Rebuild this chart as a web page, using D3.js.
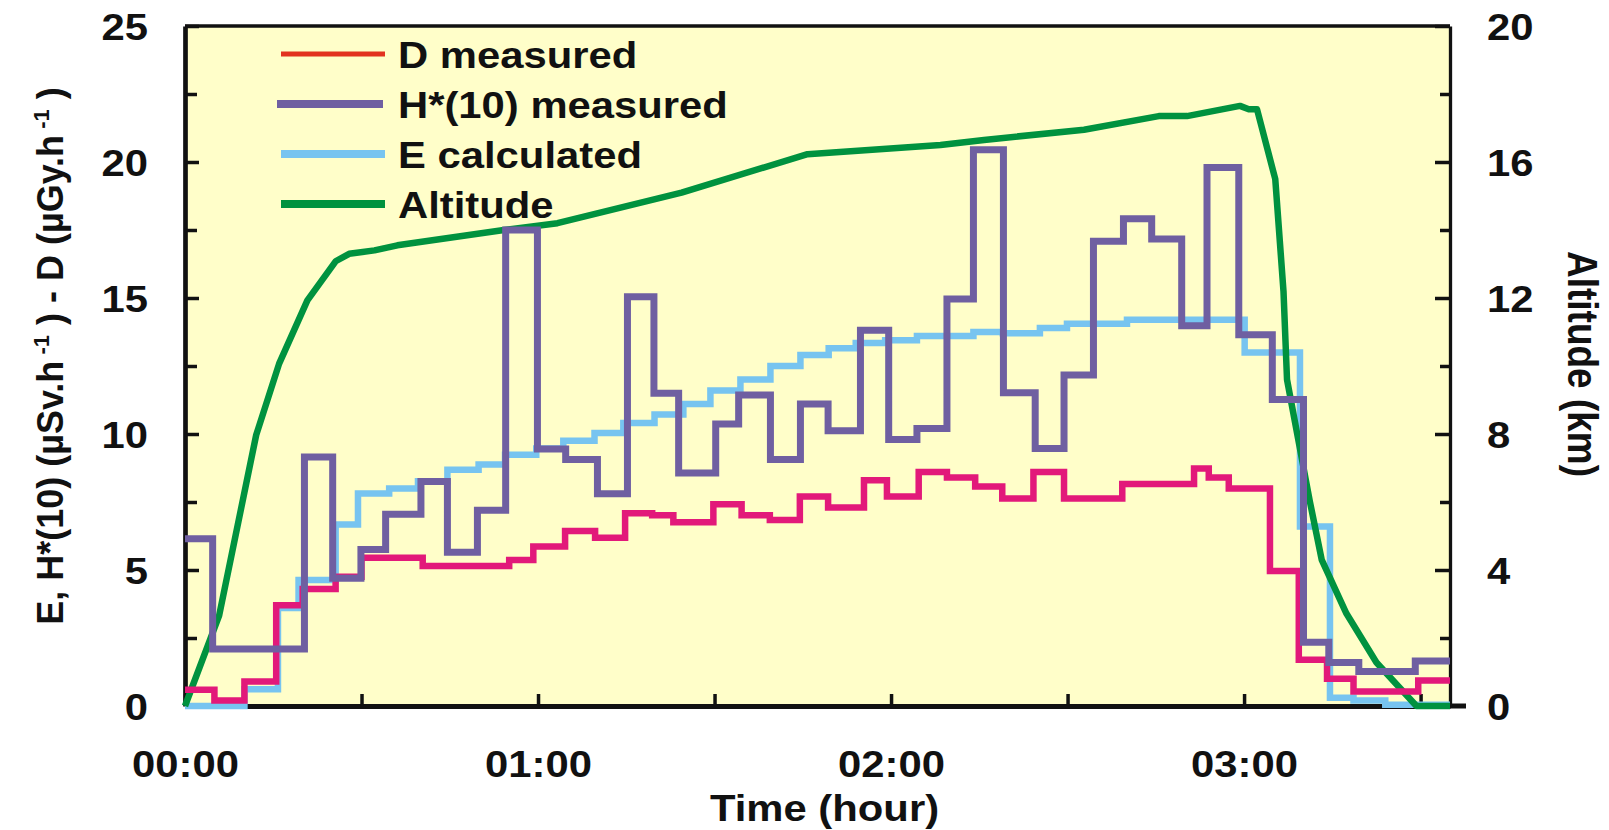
<!DOCTYPE html>
<html>
<head>
<meta charset="utf-8">
<script src="https://cdn.jsdelivr.net/npm/d3@7"></script>
<style>
html,body{margin:0;padding:0;background:#fff;}
svg{display:block;}
text{font-family:"Liberation Sans",Arial,sans-serif;font-weight:bold;fill:#111;font-size:37px;}
</style>
</head>
<body>
<svg id="chart" width="1609" height="830"></svg>
<script>
// ---- DATA (time in minutes after take-off) ----
var endTime = 215;

// D measured (µGy/h) - step starts
var doseTimes  = [0, 5.0, 10.1, 15.5, 20.0, 25.6, 30.0, 40.4, 55.1, 59.2, 64.6, 69.7, 74.8, 79.4, 83.0, 89.8, 94.6, 99.4, 104.5, 109.3, 115.4, 119.3, 124.7, 129.5, 134.3, 138.9, 144.2, 149.4, 159.3, 171.5, 174.0, 177.4, 184.4, 189.3, 194.1, 198.6, 209.6];
var doseValues = [0.6, 0.2, 0.9, 3.7, 4.3, 4.75, 5.45, 5.15, 5.37, 5.86, 6.43, 6.19, 7.09, 7.01, 6.76, 7.42, 7.01, 6.84, 7.7, 7.3, 8.3, 7.7, 8.6, 8.4, 8.07, 7.63, 8.6, 7.63, 8.16, 8.73, 8.4, 8.0, 4.96, 1.7, 1.0, 0.53, 0.94];

// H*(10) measured (µSv/h)
var hTimes  = [0, 4.7, 20.3, 25.1, 29.9, 34.1, 40.1, 44.6, 49.7, 54.5, 59.9, 64.7, 70.1, 75.2, 79.7, 83.9, 90.2, 94.1, 99.5, 104.6, 109.3, 114.8, 119.6, 124.4, 129.5, 134.0, 139.1, 144.5, 149.4, 154.4, 159.5, 164.3, 169.4, 173.7, 179.1, 184.8, 190.1, 194.4, 199.5, 209.1];
var hValues = [6.15, 2.1, 9.15, 4.7, 5.75, 7.05, 8.25, 5.65, 7.2, 17.5, 9.45, 9.06, 7.8, 15.05, 11.5, 8.57, 10.37, 11.43, 9.06, 11.1, 10.12, 13.81, 9.8, 10.2, 14.96, 20.45, 11.52, 9.47, 12.17, 17.09, 17.91, 17.17, 13.98, 19.8, 13.65, 11.27, 2.34, 1.6, 1.27, 1.65];

// E calculated (µSv/h)
var eTimes  = [0, 10.1, 15.8, 19.3, 25.6, 29.4, 34.7, 39.6, 44.6, 49.9, 54.4, 59.7, 64.3, 69.6, 74.5, 79.8, 84.7, 89.3, 94.4, 99.5, 104.6, 109.4, 114.0, 119.0, 124.4, 134.0, 139.0, 145.3, 149.9, 160.1, 180.1, 189.5, 194.6, 198.6, 204.0];
var eValues = [0, 0.62, 3.6, 4.63, 6.67, 7.81, 8.0, 8.26, 8.69, 8.88, 9.24, 9.47, 9.75, 10.04, 10.4, 10.72, 11.1, 11.6, 12.0, 12.5, 12.9, 13.15, 13.35, 13.45, 13.6, 13.75, 13.7, 13.9, 14.05, 14.2, 13.0, 6.6, 0.3, 0.2, 0.05];

// Altitude (km)
var altTimes  = [0, 5.8, 12.1, 16.0, 20.8, 25.6, 27.9, 32.2, 36.1, 54.2, 63.3, 84.4, 105.8, 128.4, 135.8, 152.8, 165.5, 170.3, 179.3, 180.8, 182.2, 185.3, 186.7, 187.3, 191.2, 193.2, 197.4, 202.5, 209.3, 215];
var altValues = [0, 2.66, 7.97, 10.07, 11.93, 13.08, 13.3, 13.4, 13.55, 14.0, 14.2, 15.1, 16.23, 16.5, 16.65, 16.95, 17.35, 17.35, 17.65, 17.55, 17.55, 15.5, 12.2, 9.6, 6.0, 4.3, 2.72, 1.28, 0, 0];

// axes ticks / labels
var timeTicks  = [0, 30, 60, 90, 120, 150, 180, 210];
var timeLabels = {0: '00:00', 60: '01:00', 120: '02:00', 180: '03:00'};
var leftTicks  = [0, 2.5, 5, 7.5, 10, 12.5, 15, 17.5, 20, 22.5, 25];
var leftLabels = [0, 5, 10, 15, 20, 25];
var rightTicks  = [0, 2, 4, 6, 8, 10, 12, 14, 16, 18, 20];
var rightLabels = [0, 4, 8, 12, 16, 20];

var legendNames  = ['D measured', 'H*(10) measured', 'E calculated', 'Altitude'];
var legendColors = ['#E2321F', '#6F5FA1', '#77C4F0', '#00923F'];

// ---- LAYOUT ----
var pLeft = 185, pRight = 1450, pTop = 26, pBottom = 706;
var SX = 1.13; // text is a bit wider than plain Arial in the original

var svg = d3.select('#chart');

var x  = d3.scaleLinear().domain([0, endTime]).range([pLeft, pRight]);
var y  = d3.scaleLinear().domain([0, 25]).range([pBottom, pTop]);
var y2 = d3.scaleLinear().domain([0, 20]).range([pBottom, pTop]);

svg.append('rect')
	.attr('x', pLeft).attr('y', pTop)
	.attr('width', pRight - pLeft).attr('height', pBottom - pTop)
	.attr('fill', '#FFFEC9');

// top border
svg.append('line')
	.attr('x1', pLeft).attr('x2', pRight)
	.attr('y1', pTop).attr('y2', pTop)
	.attr('stroke', '#111').attr('stroke-width', 3.3);

// bottom axis
var xAxis = d3.axisBottom(x)
	.tickValues(timeTicks)
	.tickSizeInner(-12).tickSizeOuter(0)
	.tickFormat(function(d){ return timeLabels[d] || ''; });

var gx = svg.append('g')
	.attr('transform', 'translate(0,' + pBottom + ')')
	.call(xAxis);
gx.select('.domain').attr('stroke', '#111').attr('stroke-width', 5);
gx.selectAll('.tick line').attr('stroke', '#111').attr('stroke-width', 3.5);
gx.selectAll('.tick text')
	.attr('y', 71).attr('dy', null)
	.attr('transform', 'scale(' + SX + ',1)');

svg.append('line')
	.attr('x1', pRight).attr('x2', pRight + 16)
	.attr('y1', pBottom).attr('y2', pBottom)
	.attr('stroke', '#111').attr('stroke-width', 5);

// left axis
var yAxis = d3.axisLeft(y)
	.tickValues(leftTicks)
	.tickSizeInner(-14).tickSizeOuter(0)
	.tickFormat(function(d){ return leftLabels.indexOf(d) > -1 ? d : ''; });

var gy = svg.append('g')
	.attr('transform', 'translate(' + pLeft + ',0)')
	.call(yAxis);
gy.select('.domain').attr('stroke', '#111').attr('stroke-width', 4.7);
gy.selectAll('.tick line')
	.attr('stroke', '#111').attr('stroke-width', 3.5)
	.attr('x2', function(d){ return leftLabels.indexOf(d) > -1 ? 14 : 12; });
gy.selectAll('.tick text')
	.attr('x', -37 / SX).attr('y', 13).attr('dy', null)
	.attr('transform', 'scale(' + SX + ',1)');

// right axis
var y2Axis = d3.axisRight(y2)
	.tickValues(rightTicks)
	.tickSizeInner(-15).tickSizeOuter(0)
	.tickFormat(function(d){ return rightLabels.indexOf(d) > -1 ? d : ''; });

var gy2 = svg.append('g')
	.attr('transform', 'translate(' + pRight + ',0)')
	.call(y2Axis);
gy2.select('.domain').attr('stroke', '#111').attr('stroke-width', 3.3);
gy2.selectAll('.tick line')
	.attr('stroke', '#111').attr('stroke-width', 3.5)
	.attr('x2', function(d){ return rightLabels.indexOf(d) > -1 ? -15 : -10; });
gy2.selectAll('.tick text')
	.attr('x', 37 / SX).attr('y', 13).attr('dy', null)
	.attr('transform', 'scale(' + SX + ',1)');

// ---- SERIES ----
function steps(times, values){
	var pts = times.map(function(t, i){ return [t, values[i]]; });
	pts.push([endTime, values[values.length - 1]]);
	return pts;
}

var stepLine = d3.line()
	.x(function(d){ return x(d[0]); })
	.y(function(d){ return y(d[1]); })
	.curve(d3.curveStepAfter);

var altLine = d3.line()
	.x(function(d){ return x(d[0]); })
	.y(function(d){ return y2(d[1]); });

var plot = svg.append('g')
	.attr('fill', 'none')
	.attr('stroke-linejoin', 'miter')
	.attr('stroke-linecap', 'butt');

plot.append('path')
	.attr('d', stepLine(steps(eTimes, eValues)))
	.attr('stroke', '#77C4F0').attr('stroke-width', 6.5);

plot.append('path')
	.attr('d', altLine(altTimes.map(function(t, i){ return [t, altValues[i]]; })))
	.attr('stroke', '#00923F').attr('stroke-width', 6.5)
	.attr('stroke-linejoin', 'round');

plot.append('path')
	.attr('d', stepLine(steps(doseTimes, doseValues)))
	.attr('stroke', '#E2197A').attr('stroke-width', 6.5);

plot.append('path')
	.attr('d', stepLine(steps(hTimes, hValues)))
	.attr('stroke', '#6F5FA1').attr('stroke-width', 7);

// ---- LEGEND ----
var legend = svg.append('g');
legendNames.forEach(function(name, i){
	var ly = 54 + i * 50;
	legend.append('line')
		.attr('x1', i == 1 ? 277 : 281).attr('x2', i == 1 ? 383 : 385)
		.attr('y1', ly).attr('y2', ly)
		.attr('stroke', legendColors[i])
		.attr('stroke-width', i == 0 ? 5 : 8);
	legend.append('text')
		.attr('transform', 'translate(398,' + (ly + 14) + ') scale(' + SX + ',1)')
		.text(name);
});

// ---- TITLES ----
svg.append('text')
	.attr('transform', 'translate(' + ((pLeft + pRight) / 2 + 7) + ',821) scale(' + SX + ',1)')
	.attr('text-anchor', 'middle')
	.text('Time (hour)');

svg.append('text')
	.attr('transform', 'translate(1568,364) scale(' + SX + ',1) rotate(90)')
	.attr('text-anchor', 'middle')
	.text('Altitude (km)');

var yt = svg.append('text')
	.attr('transform', 'translate(63,356) rotate(-90)')
	.attr('text-anchor', 'middle')
	.style('font-size', '36px');
yt.append('tspan').text('E, H*(10) (µSv.h');
yt.append('tspan').attr('dy', -14).style('font-size', '22px').text(' -1');
yt.append('tspan').attr('dy', 14).text(' ) - D (µGy.h');
yt.append('tspan').attr('dy', -14).style('font-size', '22px').text(' -1');
yt.append('tspan').attr('dy', 14).text(' )');
</script>
</body>
</html>
